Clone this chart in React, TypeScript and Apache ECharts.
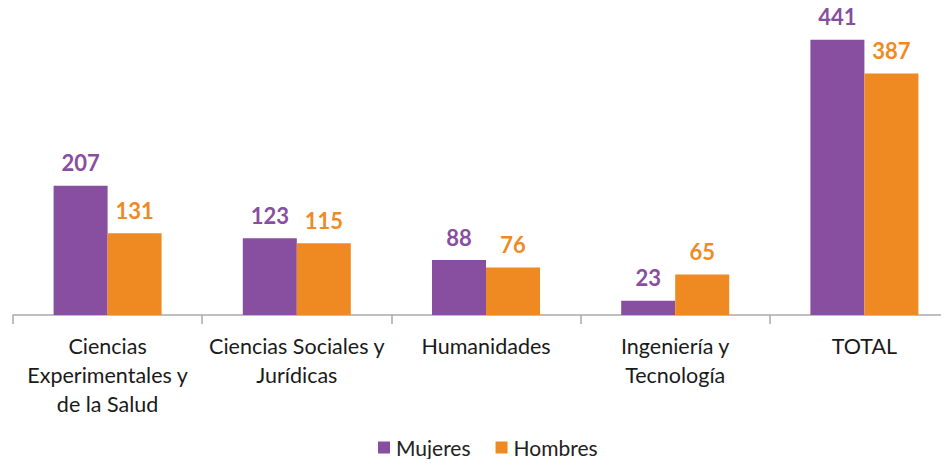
import React, { useEffect, useRef } from "react";
import * as echarts from "echarts";

const categories = [
  "Ciencias\nExperimentales y\nde la Salud",
  "Ciencias Sociales y\nJurídicas",
  "Humanidades",
  "Ingeniería y\nTecnología",
  "TOTAL",
];
const mujeres = [207, 123, 88, 23, 441];
const hombres = [131, 115, 76, 65, 387];

const PURPLE = "#884ea0";
const ORANGE = "#ef8a22";
const FONT = "Lato, 'Open Sans', sans-serif";

export default function App() {
  const ref = useRef<HTMLDivElement>(null);
  useEffect(() => {
    if (!ref.current) return;
    const chart = echarts.init(ref.current, null, { renderer: "svg" });
    chart.setOption({
      animation: false,
      grid: {
        left: 13,
        width: 946,
        top: 3,
        bottom: 152,
        containLabel: false,
        outerBoundsMode: "none",
      },
      legend: {
        top: 437,
        left: 378,
        padding: 0,
        itemWidth: 12,
        itemHeight: 12,
        itemGap: 25,
        icon: "rect",
        textStyle: { fontFamily: FONT, fontSize: 21, color: "#222", padding: [0, 0, 0, 1] },
        data: ["Mujeres", "Hombres"],
      },
      xAxis: {
        type: "category",
        data: categories,
        axisLine: { lineStyle: { color: "#aaaaaa", width: 1.5 } },
        axisTick: { show: true, length: 9, lineStyle: { color: "#aaaaaa", width: 1.5 } },
        axisLabel: {
          fontFamily: FONT,
          fontSize: 21.5,
          color: "#1a1a1a",
          lineHeight: 29,
          margin: 16,
          interval: 0,
        },
      },
      yAxis: {
        type: "value",
        min: 0,
        max: 500,
        show: false,
        splitLine: { show: false },
      },
      series: [
        {
          name: "Mujeres",
          type: "bar",
          data: mujeres,
          barWidth: 54,
          barGap: "0%",
          itemStyle: { color: PURPLE },
          label: {
            show: true,
            position: "top",
            distance: 12,
            fontFamily: FONT,
            fontSize: 22,
            fontWeight: "bold",
            color: PURPLE,
          },
        },
        {
          name: "Hombres",
          type: "bar",
          data: hombres,
          barWidth: 54,
          itemStyle: { color: ORANGE },
          label: {
            show: true,
            position: "top",
            distance: 12,
            fontFamily: FONT,
            fontSize: 22,
            fontWeight: "bold",
            color: ORANGE,
          },
        },
      ],
    });
    return () => chart.dispose();
  }, []);
  return <div ref={ref} style={{ width: 949, height: 467, margin: -8 }} />;
}
